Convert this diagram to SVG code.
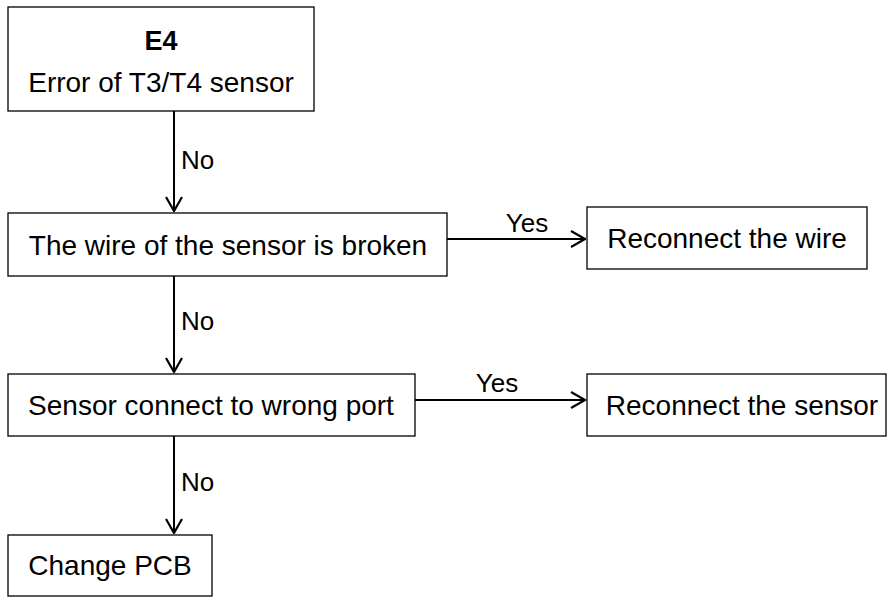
<svg xmlns="http://www.w3.org/2000/svg" width="888" height="597" viewBox="0 0 888 597">
<style>
.box{fill:#fff;stroke:#000;stroke-width:1.3}
.t{font-family:"Liberation Sans",Arial,sans-serif;font-size:28px;fill:#000;text-anchor:middle}
.b{font-weight:bold;font-size:27px}
.l{font-family:"Liberation Sans",Arial,sans-serif;font-size:26px;fill:#000}
.y{text-anchor:middle}
.c{fill:none;stroke:#000;stroke-width:2}
</style>
<defs>
<marker id="ah" viewBox="0 0 16 18" refX="15" refY="9" markerWidth="16" markerHeight="18" markerUnits="userSpaceOnUse" orient="auto">
<polyline points="1,1 15,9 1,17" fill="none" stroke="#000" stroke-width="2.2"/>
</marker>
</defs>
<rect width="888" height="597" fill="#fff"/>
<g id="connectors">
<line class="c" x1="174" y1="111" x2="174" y2="211" marker-end="url(#ah)"/>
<line class="c" x1="174" y1="276" x2="174" y2="372" marker-end="url(#ah)"/>
<line class="c" x1="174" y1="436" x2="174" y2="533" marker-end="url(#ah)"/>
<line class="c" x1="447" y1="239" x2="585" y2="239" marker-end="url(#ah)"/>
<line class="c" x1="415" y1="400" x2="585" y2="400" marker-end="url(#ah)"/>
<text class="l" x="181" y="169">No</text>
<text class="l" x="181" y="330">No</text>
<text class="l" x="181" y="491">No</text>
<text class="l y" x="527" y="232">Yes</text>
<text class="l y" x="497" y="392">Yes</text>
</g>
<g id="n1">
<rect class="box" x="8" y="7" width="306" height="104"/>
<text class="t b" x="161" y="50">E4</text>
<text class="t" x="161" y="92">Error of T3/T4 sensor</text>
</g>
<g id="n2">
<rect class="box" x="8" y="213" width="439" height="63"/>
<text class="t" x="228" y="255">The wire of the sensor is broken</text>
</g>
<g id="n3">
<rect class="box" x="587" y="207" width="280" height="62"/>
<text class="t" x="727" y="248">Reconnect the wire</text>
</g>
<g id="n4">
<rect class="box" x="8" y="374" width="407" height="62"/>
<text class="t" x="211" y="415">Sensor connect to wrong port</text>
</g>
<g id="n5">
<rect class="box" x="587" y="374" width="299" height="62"/>
<text class="t" x="742" y="415">Reconnect the sensor</text>
</g>
<g id="n6">
<rect class="box" x="8" y="535" width="204" height="61"/>
<text class="t" x="110" y="575">Change PCB</text>
</g>
</svg>
